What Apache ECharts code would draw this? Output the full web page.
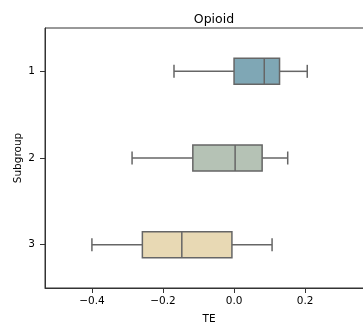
<!DOCTYPE html>
<html><head><meta charset="utf-8">
<script src="https://cdn.jsdelivr.net/npm/echarts@6/dist/echarts.min.js"></script>
<style>html,body{margin:0;padding:0;background:#fff}#c{width:363px;height:324px}</style>
</head><body><div id="c"></div>
<script>
const categories = ['1', '2', '3'];
const whiskerLow = [-0.169, -0.287, -0.400];
const q1 = [0.000, -0.116, -0.258];
const median = [0.085, 0.003, -0.147];
const q3 = [0.128, 0.079, -0.006];
const whiskerHigh = [0.206, 0.151, 0.107];
const boxColors = ['#7fa7b5', '#b5c2b5', '#e8d9b4'];
const xTicks = [-0.4, -0.2, 0.0, 0.2];

const data = categories.map((c, i) => [i, whiskerLow[i], q1[i], median[i], q3[i], whiskerHigh[i]]);
const lineColor = '#666666';

function fmt(v) {
  const s = v.toFixed(1);
  return s.replace('-', '\u2212');
}

const chart = echarts.init(document.getElementById('c'), null, {renderer: 'canvas'});
chart.setOption({
  animation: false,
  title: {
    text: 'Opioid', left: 209, top: 8, textAlign: 'center',
    textStyle: {fontFamily: 'DejaVu Sans', fontSize: 12.5, fontWeight: 'normal', color: '#000'}
  },
  grid: {left: 45, top: 28, width: 328, height: 260, show: true, borderColor: '#333', borderWidth: 1,
    outerBoundsMode: 'none', containLabel: false},
  xAxis: {
    type: 'value', min: -0.532, max: 0.391,
    name: 'TE', nameLocation: 'middle', nameGap: 26,
    nameTextStyle: {fontFamily: 'DejaVu Sans', fontSize: 10.5, color: '#000'},
    axisLine: {show: true, onZero: false, lineStyle: {color: '#333', width: 1}},
    axisTick: {show: true, customValues: xTicks, length: 5, lineStyle: {color: '#333'}},
    axisLabel: {customValues: xTicks, formatter: fmt, fontFamily: 'DejaVu Sans', fontSize: 10.5, color: '#000', margin: 8},
    splitLine: {show: false}
  },
  yAxis: {
    type: 'category', data: categories, inverse: true,
    name: 'Subgroup', nameLocation: 'middle', nameGap: 21, nameRotate: 90, nameMoveOverlap: false,
    nameTextStyle: {fontFamily: 'DejaVu Sans', fontSize: 10.5, color: '#000'},
    axisLine: {show: true, onZero: false, lineStyle: {color: '#333', width: 1}},
    axisTick: {show: true, alignWithLabel: true, length: 5, lineStyle: {color: '#333'}},
    axisLabel: {fontFamily: 'DejaVu Sans', fontSize: 10.5, color: '#000', margin: 10},
    splitLine: {show: false}
  },
  series: [{
    type: 'custom',
    data: data,
    encode: {y: 0, x: [1, 2, 3, 4, 5]},
    renderItem: function (params, api) {
      const ci = api.value(0);
      const pMin = api.coord([api.value(1), ci]);
      const pQ1 = api.coord([api.value(2), ci]);
      const pMed = api.coord([api.value(3), ci]);
      const pQ3 = api.coord([api.value(4), ci]);
      const pMax = api.coord([api.value(5), ci]);
      const band = api.size([0, 1])[1];
      const h = band * 0.3;
      const cy = pMed[1];
      const style = {stroke: lineColor, lineWidth: 1.5, fill: null};
      return {
        type: 'group',
        children: [
          {type: 'line', shape: {x1: pMin[0], y1: cy, x2: pQ1[0], y2: cy}, style: style},
          {type: 'line', shape: {x1: pQ3[0], y1: cy, x2: pMax[0], y2: cy}, style: style},
          {type: 'line', shape: {x1: pMin[0], y1: cy - h / 4, x2: pMin[0], y2: cy + h / 4}, style: style},
          {type: 'line', shape: {x1: pMax[0], y1: cy - h / 4, x2: pMax[0], y2: cy + h / 4}, style: style},
          {type: 'rect', shape: {x: pQ1[0], y: cy - h / 2, width: pQ3[0] - pQ1[0], height: h},
            style: {fill: boxColors[params.dataIndex], stroke: lineColor, lineWidth: 1.5}},
          {type: 'line', shape: {x1: pMed[0], y1: cy - h / 2, x2: pMed[0], y2: cy + h / 2}, style: style}
        ]
      };
    }
  }]
});
</script>
</body></html>
